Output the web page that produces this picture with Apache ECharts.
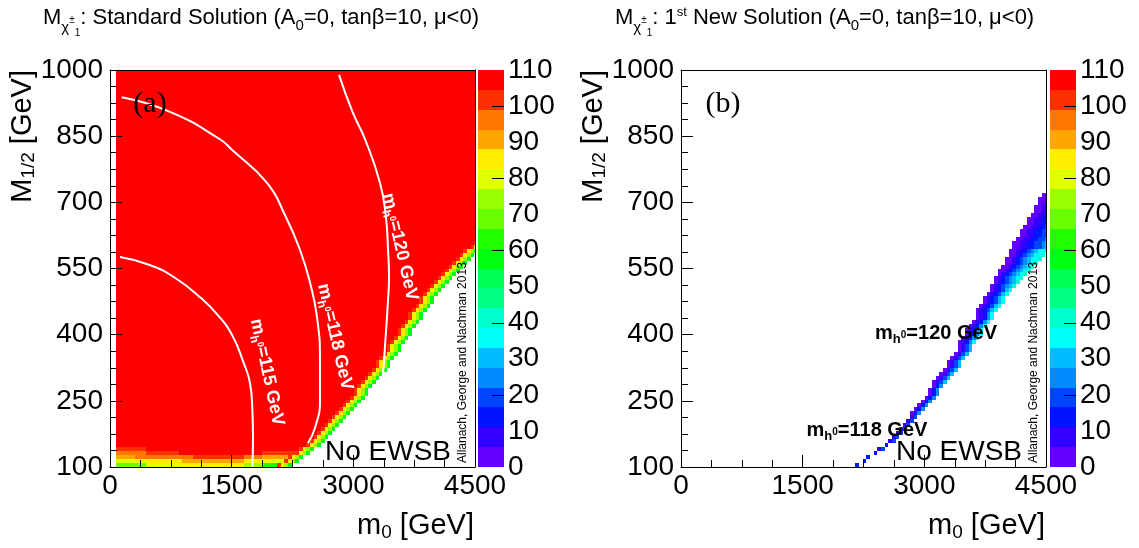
<!DOCTYPE html>
<html><head><meta charset="utf-8">
<script src="https://cdn.jsdelivr.net/npm/echarts@6/dist/echarts.min.js"></script>
<style>html,body{margin:0;padding:0;background:#fff}#c{width:1139px;height:548px}</style>
</head><body><div id="c"></div>
<script>
const F = 'Liberation Sans, Arial, Helvetica, sans-serif';
const SERIF = 'Liberation Serif, DejaVu Serif, serif';

// ROOT rainbow palette, 20 contour bins (index 0 = lowest)
const palette = ['#6300ff','#3300ff','#0014ff','#0044ff','#008bff','#00bbff','#00fffb','#00ffcc','#00ff85','#00ff55',
                 '#00ff0e','#22ff00','#69ff00','#99ff00','#e0ff00','#ffee00','#ffa700','#ff7700','#ff3000','#ff0000'];
const zMax = 110;
const colorbarTicks = [20, 40, 60, 80, 100];

// axis ranges
const m0Min = 0, m0Max = 4500, m0Interval = 1500;
const mhMin = 100, mhMax = 1000, mhInterval = 150;
const zInterval = 10;

// histogram binning of the scan
const cellM0Start = 80, cellM0Step = 45, cellM0Count = 99;
const cellMStart = 100, cellMStep = 9, cellMCount = 100;

// panel (a): outermost filled column (No-EWSB boundary) per M1/2 row
const edgeColA = [47,49,50,52,53,55,56,57,58,59, 60,61,62,63,64,65,66,67,68,68,
                  69,70,71,72,73,74,74,75,76,77, 77,78,79,80,80,81,82,83,83,84,
                  85,86,86,87,88,89,90,91,92,93, 94,95,96,97,98,100,101,102];
// colour bins of the cells next to the boundary, from the outer edge inward
const bandProfileA = [10, 13, 15, 18];
// lowest rows of panel (a): [firstCol, endCol(excl), colourBin]
const bottomRowsA = [
  [[0,8,12],[8,18,14],[18,35,15],[35,40,13],[40,99,11]],
  [[0,8,14],[8,18,15],[18,35,16],[35,40,15],[40,99,14]],
  [[0,5,16],[5,21,17],[21,35,18],[35,40,17],[40,99,16]],
  [[0,8,17],[8,17,18],[17,40,19],[40,99,18]],
  [[0,8,18],[8,99,19]]
];

// panel (b): filled band per M1/2 row: [firstCol, lastCol]
const bandRowsB = [
  [46,46],[48,48],[49,49],[51,51],[52,53],[54,54],[55,56],[56,57],[57,58],[58,59],
  [59,60],[60,61],[61,62],[61,63],[62,64],[63,65],[64,66],[65,67],[66,68],[66,68],
  [67,69],[67,70],[68,71],[69,72],[70,73],[71,74],[71,74],[72,75],[73,76],[74,77],
  [74,77],[74,78],[75,79],[76,80],[76,80],[77,81],[78,82],[79,83],[79,83],[79,84],
  [80,85],[81,86],[81,86],[82,87],[83,88],[83,89],[84,90],[84,91],[85,92],[85,93],
  [86,94],[87,95],[87,96],[88,97],[88,98],[89,100],[89,101],[90,102],[91,103],[91,104],
  [92,105],[93,106],[93,108],[94,109],[95,110],[95,111],[96,112],[96,113],[97,114]
];
// colour bins across the band (from upper-left edge), by band width
const bandProfilesB = {
  1:[2], 2:[1,3], 3:[0,2,4], 4:[0,1,3,5], 5:[0,1,2,4,6], 6:[0,1,2,3,5,6], 7:[0,1,2,3,4,5,7],
  8:[0,1,2,3,4,5,6,7], 9:[0,0,1,2,3,4,5,6,7], 10:[0,0,1,2,3,4,5,6,6,7], 11:[0,0,1,1,2,3,4,5,6,6,7],
  wide:[0,0,1,1,2,2,3,3,4,5,6,6,7,7,7,7,7,7,7]
};

// Higgs mass contours of panel (a), [m0, M1/2]
const contour115 = [[123,576],[490,558],[800,529],[1110,485],[1350,440],[1517,395],[1640,340],[1726,290],[1755,230],[1763,168],[1755,100]];
const contour118 = [[144,938],[740,905],[1356,843],[1504,819],[1936,744],[2160,670],[2343,592],[2470,515],[2552,440],[2589,340],[2589,252],[2530,190],[2440,154]];
const contour120 = [[2824,989],[2990,905],[3144,843],[3329,744],[3400,670],[3428,592],[3440,530],[3428,479],[3400,400],[3354,290],[3300,230]];
const contourLabelsA = [
  {mass:'115', pos:[1936,315], rot:-78},
  {mass:'118', pos:[2774,395], rot:-77},
  {mass:'120', pos:[3576,599], rot:-77}
];
const contourLabelsB = [
  {mass:'120', pos:[3144,402], rot:0},
  {mass:'118', pos:[2293,182], rot:0}
];

function pushRun(arr, r, c0, c1, ci) {
  const x0 = cellM0Start + c0 * cellM0Step;
  const x1 = Math.min(cellM0Start + (c1 + 1) * cellM0Step, m0Max);
  const y0 = cellMStart + r * cellMStep;
  arr.push([x0, x1, y0, y0 + cellMStep, ci]);
}
function buildA() {
  const out = [];
  for (let r = 0; r < cellMCount; r++) {
    const edge = r < edgeColA.length ? edgeColA[r] : 1000;
    const last = Math.min(edge, cellM0Count - 1);
    let rs = 0, rc = null;
    for (let c = 0; c <= last; c++) {
      let ci;
      const d = edge - c;
      if (d < bandProfileA.length) ci = bandProfileA[d];
      else if (r < bottomRowsA.length) {
        ci = 19;
        for (const s of bottomRowsA[r]) if (c >= s[0] && c < s[1]) { ci = s[2]; break; }
      } else ci = 19;
      if (rc === null) { rs = c; rc = ci; }
      else if (ci !== rc) { pushRun(out, r, rs, c - 1, rc); rs = c; rc = ci; }
    }
    if (rc !== null) pushRun(out, r, rs, last, rc);
  }
  return out;
}
function buildB() {
  const out = [];
  bandRowsB.forEach((b, r) => {
    const L = b[1] - b[0] + 1;
    const prof = bandProfilesB[L] || bandProfilesB.wide;
    for (let c = b[0]; c <= Math.min(b[1], cellM0Count - 1); c++) pushRun(out, r, c, c, prof[c - b[0]]);
  });
  return out;
}
const cellsA = buildA();
const cellsB = buildB();
const colorbarCells = palette.map((p, k) => [0, 1, k * zMax / palette.length, (k + 1) * zMax / palette.length, k]);

function renderCells(params, api) {
  const p0 = api.coord([api.value(0), api.value(3)]);
  const p1 = api.coord([api.value(1), api.value(2)]);
  const x = Math.round(p0[0]), y = Math.round(p0[1]);
  return {type:'rect', shape:{x:x, y:y, width:Math.round(p1[0]) - x, height:Math.round(p1[1]) - y},
          style:{fill: palette[api.value(4)]}};
}
function renderCbTick(params, api) {
  const p = api.coord([api.value(0), api.value(1)]);
  const y = Math.round(p[1]) + 0.5;
  return {type:'line', shape:{x1:p[0] - 12, y1:y, x2:p[0], y2:y}, style:{stroke:'#000', lineWidth:1}};
}
function lblRich(col, big, hs, zs) {
  return {
    m:{fontSize:big, fontWeight:'bold', fontFamily:F, fill:col},
    h:{fontSize:hs, fontWeight:'bold', fontFamily:F, fill:col, padding:[12,0,0,0]},
    z:{fontSize:zs, fontWeight:'bold', fontFamily:F, fill:col, padding:[2,0,0,0]}
  };
}
function labelRenderer(list, col, big, hs, zs) {
  return function (params, api) {
    const l = list[params.dataIndex];
    const p = api.coord([api.value(0), api.value(1)]);
    return {type:'text', x:p[0], y:p[1], rotation:l.rot * Math.PI / 180,
      style:{text:'{m|m}{h|h}{z|0}{m|=' + l.mass + ' GeV}', rich:lblRich(col, big, hs, zs), align:'center', verticalAlign:'middle'}};
  };
}

const black = {color:'#000', width:1};
const plainNum = v => String(v);
function mainX(g) {
  return {gridIndex:g, type:'value', min:m0Min, max:m0Max, interval:m0Interval, position:'bottom', z:10,
    axisLine:{show:true, onZero:false, lineStyle:black},
    axisTick:{show:true, inside:true, length:12, lineStyle:black},
    minorTick:{show:true, splitNumber:4, length:7, lineStyle:black},
    splitLine:{show:false}, minorSplitLine:{show:false},
    axisLabel:{show:true, fontSize:28, fontFamily:F, color:'#000', margin:5, formatter:plainNum, showMinLabel:true, showMaxLabel:true}};
}
function frameX(g) {
  return {gridIndex:g, type:'value', min:m0Min, max:m0Max, position:'top', z:10,
    axisLine:{show:true, onZero:false, lineStyle:black}, axisTick:{show:false}, axisLabel:{show:false}, splitLine:{show:false}};
}
function mainY(g) {
  return {gridIndex:g, type:'value', min:mhMin, max:mhMax, interval:mhInterval, position:'left', z:10,
    axisLine:{show:true, onZero:false, lineStyle:black},
    axisTick:{show:true, inside:true, length:12, lineStyle:black},
    minorTick:{show:true, splitNumber:4, length:7, lineStyle:black},
    splitLine:{show:false}, minorSplitLine:{show:false},
    axisLabel:{show:true, fontSize:28, fontFamily:F, color:'#000', margin:7, padding:[8,0,0,0], formatter:plainNum, showMinLabel:true, showMaxLabel:true}};
}
function frameY(g) {
  return {gridIndex:g, type:'value', min:mhMin, max:mhMax, position:'right', z:10,
    axisLine:{show:true, onZero:false, lineStyle:black}, axisTick:{show:false}, axisLabel:{show:false}, splitLine:{show:false}};
}
function cbX(g) { return {gridIndex:g, type:'value', min:0, max:1, show:false}; }
function cbY(g) {
  return {gridIndex:g, type:'value', min:0, max:zMax, interval:zInterval, position:'right',
    axisLine:{show:false}, axisTick:{show:false}, splitLine:{show:false},
    axisLabel:{show:true, fontSize:28, fontFamily:F, color:'#000', margin:4, formatter:plainNum, showMinLabel:true, showMaxLabel:true}};
}
function contourLine(data) {
  return {type:'line', xAxisIndex:0, yAxisIndex:0, data:data, smooth:true, symbol:'none', z:4, silent:true,
    lineStyle:{color:'#ffffff', width:2, opacity:1}};
}

// graphic rich styles
const gMain = {fontSize:22, fontFamily:F, fill:'#000'};
const titleRich = {
  M: gMain,
  chi:{fontSize:15, fontFamily:F, fill:'#000', padding:[20,0,0,0]},
  pm:{fontSize:10, fontFamily:F, fill:'#000', padding:[4,0,0,0]},
  one:{fontSize:10, fontFamily:F, fill:'#000', padding:[30,0,0,0]},
  sub:{fontSize:15, fontFamily:F, fill:'#000', padding:[16,0,0,0]},
  sup:{fontSize:13, fontFamily:F, fill:'#000', padding:[0,0,12,0]}
};
const nameRich = {
  a:{fontSize:29, fontFamily:F, fill:'#000'},
  b:{fontSize:19, fontFamily:F, fill:'#000', padding:[13,0,0,0]}
};
const titleA = '{M|M}{chi|χ}{pm|±}{one|1}{M|: Standard Solution (A}{sub|0}{M|=0, tanβ=10, μ<0)}';
const titleB = '{M|M}{chi|χ}{pm|±}{one|1}{M|: 1}{sup|st}{M| New Solution (A}{sub|0}{M|=0, tanβ=10, μ<0)}';

function txt(x, y, text, style, rot) {
  const e = {type:'text', x:x, y:y, z:100, silent:true, style:Object.assign({text:text}, style)};
  if (rot) e.rotation = rot;
  return e;
}
const graphics = [];
[0, 571].forEach((dx, i) => {
  graphics.push(txt(43 + (i ? 572 : 0), 18, i ? titleB : titleA, {rich:titleRich, align:'left', verticalAlign:'middle'}));
  graphics.push(txt(22.5 + dx, 70, '{a|M}{b|1/2}{a| [GeV]}', {rich:nameRich, align:'right', verticalAlign:'middle'}, Math.PI / 2));
  graphics.push(txt(474 + dx, 526, '{a|m}{b|0}{a| [GeV]}', {rich:nameRich, align:'right', verticalAlign:'middle'}));
  graphics.push(txt(150 + (i ? 573 : 0), 104, i ? '(b)' : '(a)', {fontSize:30, fontFamily:SERIF, fill:'#000', align:'center', verticalAlign:'middle'}));
  graphics.push(txt(388 + dx, 452, 'No EWSB', {fontSize:28, fontFamily:F, fill:'#000', align:'center', verticalAlign:'middle'}));
  graphics.push(txt(463 + dx, 463, 'Allanach, George and Nachman 2013', {fontSize:12, fontFamily:F, fill:'#000', align:'left', verticalAlign:'middle'}, Math.PI / 2));
});

const option = {
  animation:false,
  backgroundColor:'#fff',
  textStyle:{fontFamily:F},
  grid:[
    {left:110, top:70, width:365, height:397, outerBoundsMode:'none'},
    {left:478, top:70, width:26, height:397, outerBoundsMode:'none'},
    {left:681, top:70, width:365, height:397, outerBoundsMode:'none'},
    {left:1050, top:70, width:26, height:397, outerBoundsMode:'none'}
  ],
  xAxis:[mainX(0), frameX(0), cbX(1), mainX(2), frameX(2), cbX(3)],
  yAxis:[mainY(0), frameY(0), cbY(1), mainY(2), frameY(2), cbY(3)],
  series:[
    {type:'custom', xAxisIndex:0, yAxisIndex:0, data:cellsA, renderItem:renderCells, encode:{x:[0,1], y:[2,3]}, z:2, silent:true},
    contourLine(contour115), contourLine(contour118), contourLine(contour120),
    {type:'custom', xAxisIndex:0, yAxisIndex:0, data:contourLabelsA.map(l => l.pos), encode:{x:0, y:1}, z:6, silent:true,
      renderItem:labelRenderer(contourLabelsA, '#ffffff', 18, 12, 9)},
    {type:'custom', xAxisIndex:2, yAxisIndex:2, data:colorbarCells, renderItem:renderCells, encode:{x:[0,1], y:[2,3]}, z:2, silent:true},
    {type:'custom', xAxisIndex:2, yAxisIndex:2, data:colorbarTicks.map(v => [1, v]), renderItem:renderCbTick, encode:{x:0, y:1}, z:3, silent:true},
    {type:'custom', xAxisIndex:3, yAxisIndex:3, data:cellsB, renderItem:renderCells, encode:{x:[0,1], y:[2,3]}, z:2, silent:true},
    {type:'custom', xAxisIndex:3, yAxisIndex:3, data:contourLabelsB.map(l => l.pos), encode:{x:0, y:1}, z:6, silent:true,
      renderItem:labelRenderer(contourLabelsB, '#000000', 20, 13, 10)},
    {type:'custom', xAxisIndex:5, yAxisIndex:5, data:colorbarCells, renderItem:renderCells, encode:{x:[0,1], y:[2,3]}, z:2, silent:true},
    {type:'custom', xAxisIndex:5, yAxisIndex:5, data:colorbarTicks.map(v => [1, v]), renderItem:renderCbTick, encode:{x:0, y:1}, z:3, silent:true}
  ],
  graphic:graphics
};
const chart = echarts.init(document.getElementById('c'), null, {renderer:'canvas'});
chart.setOption(option);
</script>
</body></html>
